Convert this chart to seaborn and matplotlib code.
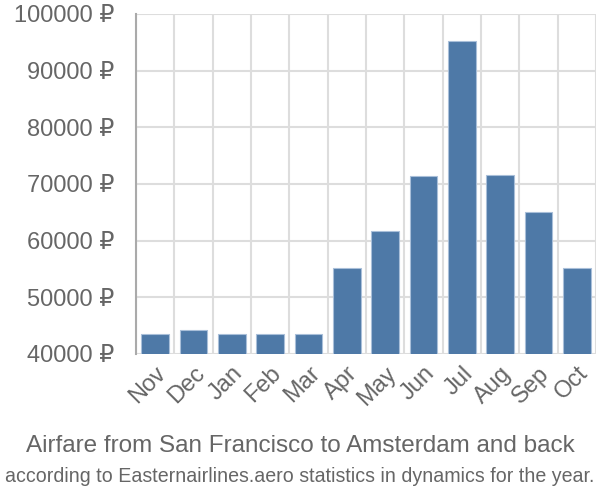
import matplotlib
matplotlib.use("Agg")
import matplotlib.pyplot as plt
import seaborn as sns
import pandas as pd
import numpy as np
from matplotlib.ticker import FixedLocator

months = ["Nov", "Dec", "Jan", "Feb", "Mar", "Apr", "May", "Jun", "Jul", "Aug", "Sep", "Oct"]
prices = [43500, 44200, 43500, 43500, 43500, 55200, 61700, 71400, 95200, 71600, 65000, 55200]
yticks = [40000, 50000, 60000, 70000, 80000, 90000, 100000]
title = "Airfare from San Francisco to Amsterdam and back"
subtitle = "according to Easternairlines.aero statistics in dynamics for the year."

sns.set_theme(style="white")
plt.rcParams['font.family'] = ['Liberation Sans', 'DejaVu Sans']

df = pd.DataFrame({"month": months, "price": prices})

fig = plt.figure(figsize=(6, 5), dpi=100)
ax = fig.add_axes([136/600, 1-354/500, 460/600, 340/500])

sns.barplot(data=df, x="month", y="price", ax=ax, color="#4e79a7", saturation=1,
            width=0.72, edgecolor="#a9bfd9", linewidth=0.8, zorder=3)

ax.set_ylim(40000, 100000)
ax.set_xlim(-0.5, len(months) - 0.5)
ax.set_yticks(yticks)
ax.set_yticklabels([f"{v} ₽" for v in yticks])
ax.set_xlabel("")
ax.set_ylabel("")

grid_c = "#dddddd"
text_c = "#666666"
ax.xaxis.set_minor_locator(FixedLocator(np.arange(-0.5, len(months), 1.0)))
ax.grid(True, axis="y", which="major", color=grid_c, linewidth=1.5, zorder=0)
ax.grid(True, axis="x", which="minor", color=grid_c, linewidth=1.5, zorder=0)
ax.tick_params(axis="x", which="minor", length=13, width=1.5, color=grid_c)
ax.tick_params(axis="x", which="major", length=0, labelsize=17, labelcolor=text_c, pad=6)
ax.tick_params(axis="y", which="major", length=14.5, width=1.5, color=grid_c,
               labelsize=17, labelcolor=text_c, pad=1)
for lbl in ax.get_xticklabels():
    lbl.set_rotation(45)
    lbl.set_ha("right")
    lbl.set_rotation_mode("anchor")

for s in ["top", "right", "bottom"]:
    ax.spines[s].set_visible(False)
ax.spines["left"].set_color("#aaaaaa")
ax.spines["left"].set_linewidth(1.5)
ax.spines["left"].set_bounds(40000, 100000)

fig.text(0.5, 1-446/500, title, ha="center", va="center", fontsize=17.5, color=text_c)
fig.text(0.5, 1-477/500, subtitle, ha="center", va="center", fontsize=14.1, color=text_c)

fig.savefig("out.png", dpi=100)
